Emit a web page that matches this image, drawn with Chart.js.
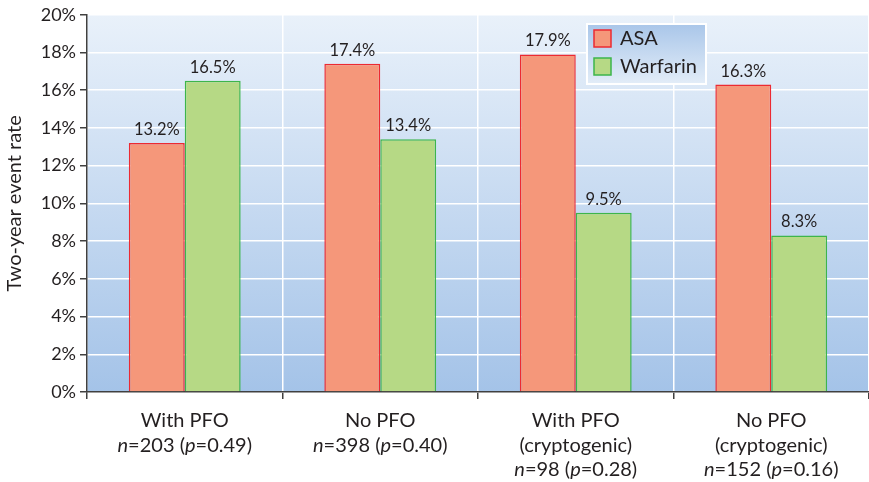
<!DOCTYPE html>
<html>
<head>
<meta charset="utf-8">
<script src="https://cdn.jsdelivr.net/npm/chart.js@4.4.1/dist/chart.umd.min.js"></script>
<style>
  html, body { margin: 0; padding: 0; background: #fff; }
  #wrap { width: 869px; height: 482px; }
</style>
</head>
<body>
<div id="wrap"><canvas id="chart"></canvas></div>
<script>
// data
const groupNames = [['With PFO'], ['No PFO'], ['With PFO', '(cryptogenic)'], ['No PFO', '(cryptogenic)']];
const sampleSizes = ['203', '398', '98', '152'];
const pValues = ['0.49', '0.40', '0.28', '0.16'];
const asaRates = [13.2, 17.4, 17.9, 16.3];
const warfarinRates = [16.5, 13.4, 9.5, 8.3];
const seriesNames = ['ASA', 'Warfarin'];
const yMax = 20;
const yStep = 2;

const FONT = 'Lato, "Open Sans", sans-serif';
const TEXT = '#231f20';
const AXIS = '#404040';

// light-to-darker blue wash behind the bars
const plotBackground = {
  id: 'plotBackground',
  beforeDraw(chart) {
    const { ctx, chartArea: a } = chart;
    const g = ctx.createLinearGradient(0, a.top, 0, a.bottom);
    g.addColorStop(0, '#e9f1fa');
    g.addColorStop(1, '#a4c3e8');
    ctx.save();
    ctx.fillStyle = g;
    ctx.fillRect(a.left, a.top, a.right - a.left, a.bottom - a.top);
    ctx.restore();
  }
};

// percentages above each bar
const barValues = {
  id: 'barValues',
  afterDatasetsDraw(chart) {
    const ctx = chart.ctx;
    ctx.save();
    ctx.font = '16.5px ' + FONT;
    ctx.fillStyle = TEXT;
    ctx.textAlign = 'center';
    ctx.textBaseline = 'alphabetic';
    chart.data.datasets.forEach((ds, di) => {
      chart.getDatasetMeta(di).data.forEach((bar, i) => {
        ctx.fillText(ds.data[i].toFixed(1) + '%', bar.x, bar.y - 8);
      });
    });
    ctx.restore();
  }
};

// category labels with italic n and p
const groupLabels = {
  id: 'groupLabels',
  afterDraw(chart) {
    const ctx = chart.ctx;
    const xs = chart.scales.x;
    const size = 20, lineH = 24.5, first = xs.top + 35;
    ctx.save();
    ctx.fillStyle = TEXT;
    ctx.textBaseline = 'alphabetic';
    groupNames.forEach((lines, i) => {
      const cx = xs.getPixelForValue(i);
      ctx.textAlign = 'center';
      ctx.font = size + 'px ' + FONT;
      lines.forEach((t, k) => ctx.fillText(t, cx, first + k * lineH));
      const parts = [
        ['n', true], ['=' + sampleSizes[i] + ' (', false],
        ['p', true], ['=' + pValues[i] + ')', false]
      ];
      const fontOf = it => (it ? 'italic ' : '') + size + 'px ' + FONT;
      let w = 0;
      parts.forEach(([t, it]) => { ctx.font = fontOf(it); w += ctx.measureText(t).width; });
      let x = cx - w / 2;
      const y = first + lines.length * lineH;
      ctx.textAlign = 'left';
      parts.forEach(([t, it]) => {
        ctx.font = fontOf(it);
        ctx.fillText(t, x, y);
        x += ctx.measureText(t).width;
      });
    });
    ctx.restore();
  }
};

// boxed legend inside the plot, upper right
const boxLegend = {
  id: 'boxLegend',
  afterDraw(chart) {
    const ctx = chart.ctx;
    const x = 587, y = 24, w = 119, h = 60;
    ctx.save();
    const g = ctx.createLinearGradient(0, y, 0, y + h);
    g.addColorStop(0, '#a9c6e9');
    g.addColorStop(1, '#e3edf8');
    ctx.fillStyle = g;
    ctx.fillRect(x, y, w, h);
    ctx.strokeStyle = '#ffffff';
    ctx.lineWidth = 2;
    ctx.strokeRect(x, y, w, h);
    ctx.font = '20px ' + FONT;
    ctx.textBaseline = 'middle';
    ctx.textAlign = 'left';
    chart.data.datasets.forEach((ds, i) => {
      const sy = y + 6 + i * 28;
      ctx.fillStyle = ds.backgroundColor;
      ctx.fillRect(x + 7, sy, 17, 17);
      ctx.strokeStyle = ds.borderColor;
      ctx.lineWidth = 1.5;
      ctx.strokeRect(x + 7, sy, 17, 17);
      ctx.fillStyle = TEXT;
      ctx.fillText(ds.label, x + 33, sy + 9);
    });
    ctx.restore();
  }
};

new Chart(document.getElementById('chart'), {
  type: 'bar',
  data: {
    labels: groupNames.map(l => l.join(' ')),
    datasets: [
      {
        label: seriesNames[0],
        data: asaRates,
        backgroundColor: '#f5977a',
        borderColor: '#ec2a32',
        borderWidth: 1.5,
        borderSkipped: 'bottom'
      },
      {
        label: seriesNames[1],
        data: warfarinRates,
        backgroundColor: '#b6d985',
        borderColor: '#3db54b',
        borderWidth: 1.5,
        borderSkipped: 'bottom'
      }
    ]
  },
  options: {
    responsive: true,
    maintainAspectRatio: false,
    animation: false,
    categoryPercentage: 0.572,
    barPercentage: 1,
    layout: { padding: { top: 13, right: 0, left: 0, bottom: 0 } },
    plugins: {
      legend: { display: false },
      tooltip: { enabled: false }
    },
    scales: {
      x: {
        offset: true,
        grid: {
          offset: true,
          color: '#ffffff',
          lineWidth: 1.5,
          tickColor: AXIS,
          tickLength: 7,
          drawTicks: true
        },
        border: { color: AXIS, width: 1.5 },
        ticks: { callback: () => '' },
        afterFit(scale) { scale.height = 90; }
      },
      y: {
        min: 0,
        max: yMax,
        ticks: {
          stepSize: yStep,
          color: TEXT,
          font: { family: FONT, size: 18 },
          padding: 4,
          callback: v => v + '%'
        },
        grid: {
          color: '#ffffff',
          lineWidth: 1.5,
          tickColor: AXIS,
          tickLength: 7
        },
        border: { color: AXIS, width: 1.5 },
        title: {
          display: true,
          text: 'Two-year event rate',
          color: TEXT,
          font: { family: FONT, size: 20 },
          padding: { top: 3, bottom: 0 }
        },
        afterFit(scale) { scale.width = 87; }
      }
    }
  },
  plugins: [plotBackground, barValues, groupLabels, boxLegend]
});
</script>
</body>
</html>
